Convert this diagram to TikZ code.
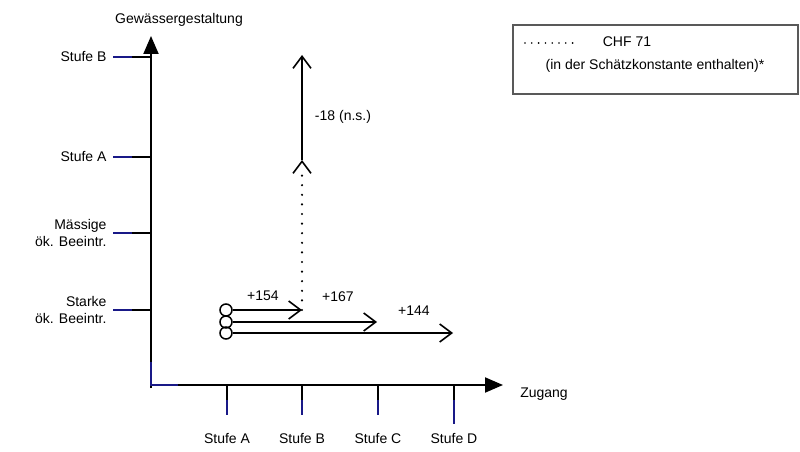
\documentclass[tikz,border=0pt]{standalone}
\usepackage{fontspec}
\setmainfont{Liberation Sans}
\usetikzlibrary{arrows.meta}

\definecolor{tickblue}{RGB}{25,25,135}

\begin{document}
\begin{tikzpicture}[x=1pt,y=-1pt,font=\fontsize{14}{16.5}\selectfont,
    axis/.style={line width=2pt,-{Triangle[length=18pt,width=15pt]}},
    flow/.style={line width=1.6pt,-{Straight Barb[length=12pt,width=18pt,line width=1.6pt]}},
    start/.style={circle,draw,line width=1.5pt,minimum size=12pt,inner sep=0pt},
    dots/.style={line width=2.4pt,line cap=round,dash pattern=on 0pt off 9.6pt}]
    		\useasboundingbox (0,0) rectangle (800,452);
    		
    		% axes
    		\draw[axis] (151,388) -- (151,36);
    		\draw[axis] (151,385) -- (503,385);
    		\draw[tickblue,line width=2pt] (151,362) -- (151,385) -- (178,385);
    		\node at (179,20) {Gewässergestaltung};
    		\node at (544,394) {Zugang};
    		
    		% y ticks
    		\foreach \y/\txt in {57/Stufe B, 157/Stufe A, 233/{Mässige\\ök. Beeintr.}, 310/{Starke\\ök. Beeintr.}} {
    			\draw[tickblue,line width=1.4pt] (113,\y) -- (132,\y);
    			\draw[line width=1.4pt] (132,\y) -- (151,\y);
    			\node[anchor=east,align=right] at (110,\y) {\txt};
    		}
    		
    		% x ticks
    		\foreach \x/\txt/\l in {227/A/415, 302/B/415, 378/C/415, 454/D/424} {
    			\draw[line width=1.4pt] (\x,385) -- (\x,400);
    			\draw[tickblue,line width=1.4pt] (\x,400) -- (\x,\l);
    			\node at (\x,438) {Stufe \txt};
    		}
    		
    		% start points
    		\node[start] (sA) at (226,310) {};
    		\node[start] (sB) at (226,322) {};
    		\node[start] (sC) at (226,333) {};
    		\coordinate (eA) at (302,310);
    		\coordinate (eB) at (377,322);
    		\coordinate (eC) at (453,333);
    		\coordinate (mid) at (302,160);
    		\coordinate (top) at (302,55);
    		
    		% improvements
    		\draw[flow] (sA.east) -- (eA);
    		\draw[flow] (sB.east) -- (eB);
    		\draw[flow] (sC.east) -- (eC);
    		\draw[dots] (eA) -- (302,168);
    		\draw[flow] (302,161) -- (mid);
    		\draw[flow] (mid) -- (top);
    		\node at (263,296) {+154};
    		\node at (338,297) {+167};
    		\node at (414,311) {+144};
    		\node at (343,117) {-18 (n.s.)};
    		
    		% legend
    		\node[draw=gray!70!black,line width=1.2pt,minimum width=285pt,minimum height=69pt] (legend) at (655.5,59.5) {};
    		\draw[line width=1.8pt,line cap=round,dash pattern=on 0pt off 6.8pt] (525,43) -- (573,43);
    		\node at (627,42) {CHF 71};
    		\node at (655,66) {(in der Schätzkonstante enthalten)*};
    	\end{tikzpicture}
\end{document}
